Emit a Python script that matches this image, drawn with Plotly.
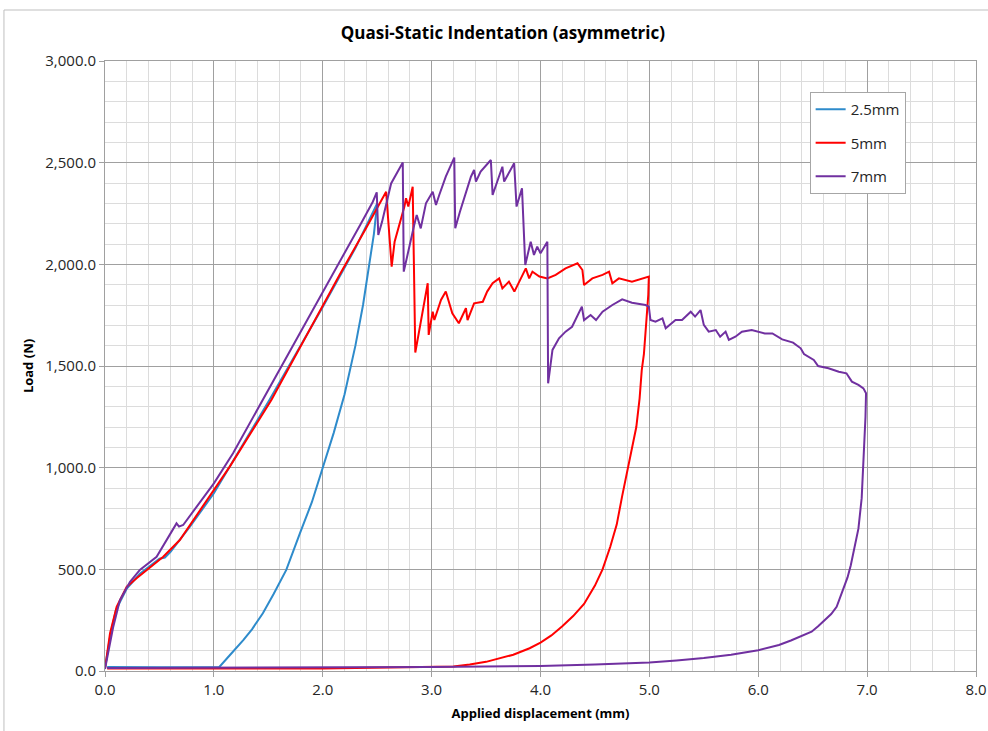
import plotly.graph_objects as go

# ---- data ----
series_names = ["2.5mm", "5mm", "7mm"]
series_colors = ["#2E8BCB", "#FF0000", "#7030A0"]

x_25 = [0.0, 0.05, 0.1, 0.2, 0.32, 0.5, 0.55, 0.6, 0.78, 1.0, 1.51, 2.0, 2.3, 2.5,
        2.47, 2.43, 2.37, 2.3, 2.2, 2.1, 2.0, 1.9, 1.79, 1.665, 1.55, 1.45, 1.35, 1.27, 1.15, 1.05,
        0.5, 0.02]
y_25 = [15, 180, 300, 405, 478, 552, 558, 585, 710, 874, 1333, 1790, 2080, 2300,
        2150, 2000, 1800, 1600, 1360, 1170, 997, 830, 677, 497, 380, 284, 205, 152, 80, 20,
        18, 20]

x_5 = [0.0, 0.046, 0.107, 0.2, 0.29, 0.367, 0.535, 0.687, 1.0, 1.146, 1.528, 2.154, 2.4, 2.582,
       2.633, 2.66, 2.75, 2.765, 2.786, 2.826, 2.85, 2.964, 2.973, 3.01, 3.025, 3.086, 3.13,
       3.19, 3.25, 3.315, 3.33, 3.39, 3.47, 3.51, 3.56, 3.62, 3.65, 3.71, 3.76, 3.865, 3.896,
       3.926, 3.99, 4.063, 4.14, 4.23, 4.34, 4.385, 4.40, 4.476, 4.57, 4.63, 4.66, 4.72, 4.84,
       4.93, 4.995,
       4.99, 4.97, 4.95, 4.93, 4.91, 4.88, 4.84, 4.8, 4.75, 4.7, 4.64, 4.57, 4.5, 4.4, 4.3,
       4.2, 4.1, 4.0, 3.9, 3.75, 3.6, 3.5, 3.35, 3.2,
       2.0, 1.0, 0.02]
y_5 = [10, 185, 316, 415, 456, 488, 562, 644, 890, 1005, 1333, 1948, 2180, 2357,
       1989, 2111, 2284, 2325, 2284, 2382, 1566, 1907, 1653, 1767, 1726, 1825, 1866,
       1759, 1710, 1784, 1726, 1808, 1816, 1866, 1907, 1931, 1882, 1915, 1866, 1980, 1931,
       1964, 1940, 1931, 1948, 1980, 2005, 1972, 1898, 1931, 1948, 1964, 1907, 1931, 1915,
       1931, 1940,
       1850, 1700, 1560, 1480, 1340, 1200, 1100, 1000, 860, 720, 610, 500, 420, 330, 270,
       220, 175, 140, 112, 80, 58, 45, 32, 22,
       12, 12, 12]

x_7 = [0.0, 0.076, 0.137, 0.23, 0.32, 0.474, 0.657, 0.68, 0.718, 1.0, 1.176, 1.45, 2.154, 2.35,
       2.444, 2.46, 2.496, 2.51, 2.545, 2.628, 2.735, 2.744, 2.84, 2.863, 2.90, 2.948, 3.01,
       3.04, 3.07, 3.13, 3.208, 3.217, 3.26, 3.361, 3.39, 3.407, 3.45, 3.544, 3.56, 3.65,
       3.666, 3.758, 3.78, 3.83, 3.86, 3.91, 3.94, 3.97, 4.0, 4.063, 4.07, 4.11, 4.17, 4.23,
       4.29, 4.38, 4.40, 4.46, 4.51, 4.57, 4.66, 4.75, 4.84, 4.965, 4.995, 5.01, 5.056, 5.12,
       5.15, 5.24, 5.30, 5.38, 5.42, 5.47, 5.50, 5.545, 5.61, 5.65, 5.70, 5.73, 5.79, 5.85,
       5.94, 5.99, 6.06, 6.13, 6.22, 6.32, 6.39, 6.42, 6.51, 6.55, 6.645, 6.74, 6.81, 6.86,
       6.92, 6.966, 6.99,
       6.985, 6.975, 6.966, 6.95, 6.92, 6.88, 6.85, 6.82, 6.78, 6.75, 6.72, 6.67, 6.615, 6.55,
       6.49, 6.4, 6.3, 6.19, 6.0, 5.75, 5.5, 5.25, 5.0,
       4.5, 4.0, 3.0, 2.0, 1.0, 0.02]
y_7 = [10, 218, 349, 439, 497, 562, 726, 710, 718, 923, 1071, 1333, 2013, 2200,
       2292, 2308, 2354, 2144, 2210, 2398, 2501, 1964, 2193, 2243, 2177, 2300, 2357,
       2292, 2341, 2431, 2525, 2177, 2259, 2431, 2464, 2407, 2456, 2513, 2341, 2480,
       2407, 2497, 2284, 2374, 1997, 2111, 2046, 2087, 2054, 2111, 1415, 1579, 1636, 1669,
       1693, 1792, 1726, 1751, 1726, 1767, 1800, 1828, 1811, 1800, 1792, 1726, 1718, 1734,
       1685, 1726, 1726, 1767, 1743, 1775, 1702, 1669, 1677, 1644, 1669, 1628, 1644, 1669,
       1677, 1669, 1660, 1660, 1631, 1615, 1587, 1559, 1530, 1500, 1489, 1472, 1464, 1423,
       1407, 1390, 1366,
       1250, 1120, 1000, 850, 700, 590, 520, 460, 398, 355, 316, 280, 251, 220,
       193, 172, 150, 128, 102, 80, 64, 52, 42,
       32, 25, 20, 18, 17, 15]

x_ticks = [0, 1, 2, 3, 4, 5, 6, 7, 8]
y_ticks = [0, 500, 1000, 1500, 2000, 2500, 3000]

FONT = "Open Sans, Liberation Sans, sans-serif"

fig = go.Figure()
for name, color, xs, ys in zip(series_names, series_colors, [x_25, x_5, x_7], [y_25, y_5, y_7]):
    fig.add_trace(go.Scatter(x=xs, y=ys, mode="lines", name=name, legendgroup=name,
                             line=dict(color=color, width=2)))

fig.update_layout(
    width=988, height=731,
    margin=dict(l=105, r=12, t=61, b=60, autoexpand=False),
    paper_bgcolor="white", plot_bgcolor="white",
    font=dict(family=FONT, size=14, color="#262626"),
    title=dict(text="<b>Quasi-Static Indentation (asymmetric)</b>", xref="container", x=0.509,
               xanchor="center", yref="container", y=0.955, yanchor="middle",
               font=dict(family=FONT, size=17, color="#000000")),
    showlegend=True,
    legend=dict(x=0.809, y=0.949, xanchor="left", yanchor="top", bgcolor="white",
                bordercolor="#A6A6A6", borderwidth=1, font=dict(family=FONT, size=15, color="#262626"),
                traceorder="grouped", tracegroupgap=11, itemwidth=30, entrywidth=95),
    xaxis=dict(range=[0, 8], tickvals=x_ticks, ticktext=[f"{v:.1f}" for v in x_ticks],
               automargin=False,
               showgrid=True, gridcolor="#A0A0A0", gridwidth=1,
               minor=dict(dtick=0.2, showgrid=True, gridcolor="#DCDCDC", gridwidth=1),
               showline=True, linecolor="#A0A0A0", mirror=True, zeroline=False,
               ticks="outside", ticklen=5, tickcolor="#A0A0A0",
               tickfont=dict(family=FONT, size=15, color="#262626"),
               title=dict(text="<b>Applied displacement (mm)</b>", standoff=10,
                          font=dict(family=FONT, size=13, color="#000000"))),
    yaxis=dict(range=[0, 3000], tickvals=y_ticks, ticktext=[f"{v:,.1f}" for v in y_ticks],
               automargin=False,
               showgrid=True, gridcolor="#A0A0A0", gridwidth=1,
               minor=dict(dtick=100, showgrid=True, gridcolor="#DCDCDC", gridwidth=1),
               showline=True, linecolor="#A0A0A0", mirror=True, zeroline=False,
               ticks="outside", ticklen=5, tickcolor="#A0A0A0",
               tickfont=dict(family=FONT, size=15, color="#262626"),
               title=dict(text="<b>Load (N)</b>", standoff=8,
                          font=dict(family=FONT, size=13, color="#000000"))),
    shapes=[dict(type="rect", xref="paper", yref="paper", x0=-0.116, x1=1.05, y0=-0.15, y1=1.0836,
                 line=dict(color="#BFBFBF", width=1), fillcolor="rgba(0,0,0,0)", layer="below")],
)

fig.write_html("out.html")
